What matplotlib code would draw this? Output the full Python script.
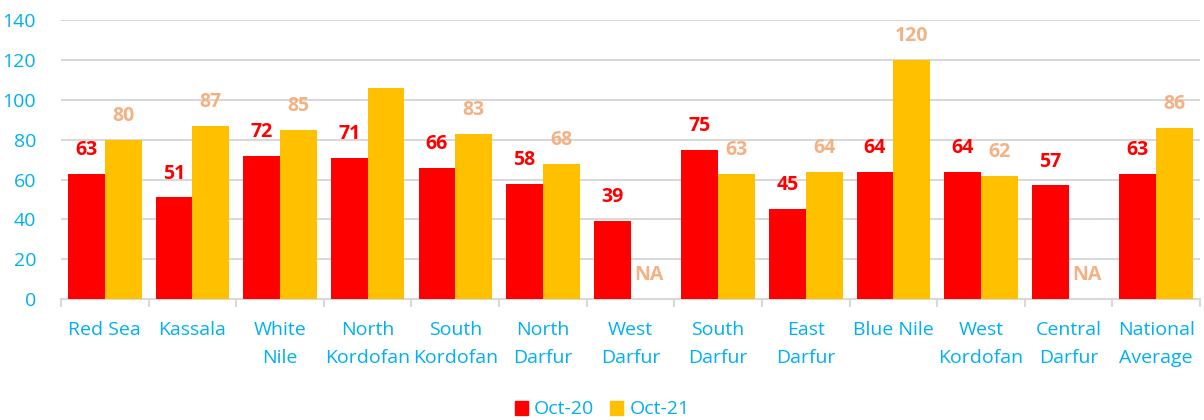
import numpy as np
import matplotlib
matplotlib.use('Agg')
import matplotlib.pyplot as plt
from matplotlib.patches import Patch

# data
regions = ['Red Sea', 'Kassala', 'White\nNile', 'North\nKordofan', 'South\nKordofan', 'North\nDarfur',
           'West\nDarfur', 'South\nDarfur', 'East\nDarfur', 'Blue Nile', 'West\nKordofan',
           'Central\nDarfur', 'National\nAverage']
oct20 = [63, 51, 72, 71, 66, 58, 39, 75, 45, 64, 64, 57, 63]
oct21 = [80, 87, 85, 106, 83, 68, None, 63, 64, 120, 62, None, 86]
# labels shown on the chart (North Kordofan Oct-21 has none)
oct20_lbl = ['63', '51', '72', '71', '66', '58', '39', '75', '45', '64', '64', '57', '63']
oct21_lbl = ['80', '87', '85', '', '83', '68', 'NA', '63', '64', '120', '62', 'NA', '86']

blue = '#00B0F0'
red = '#FF0000'
gold = '#FFC000'
lbl_col = '#F4B183'

plt.rcParams['font.family'] = ['Open Sans', 'DejaVu Sans']

fig = plt.figure(figsize=(12.04, 4.2), dpi=100)
ax = fig.add_axes([0.0507, 0.288, 0.946, 0.664])

x = np.arange(len(regions))
w = 0.42
v21 = [0 if v is None else v for v in oct21]
ax.bar(x - w / 2, oct20, w, color=red, zorder=3)
ax.bar(x + w / 2, v21, w, color=gold, zorder=3)

for i in range(len(regions)):
    ax.text(x[i] - w / 2, oct20[i] + 12, oct20_lbl[i], ha='center', va='center',
            color=red, fontsize=14, fontweight='bold')
    if oct21_lbl[i]:
        ax.text(x[i] + w / 2, v21[i] + 12, oct21_lbl[i], ha='center', va='center',
                color=lbl_col, fontsize=14, fontweight='bold')

ax.set_xlim(-0.5, len(regions) - 0.5)
ax.set_ylim(0, 140)
ax.set_yticks(range(0, 141, 20))
ax.yaxis.grid(True, color='#D9D9D9', linewidth=1.5, zorder=0)
ax.set_axisbelow(True)

ax.set_xticks(x)
ax.set_xticklabels(regions, color=blue, fontsize=14, linespacing=1.7, va='top')
ax.set_xticks(np.arange(-0.5, len(regions)), minor=True)
ax.tick_params(axis='x', which='major', length=0, pad=16)
ax.tick_params(axis='x', which='minor', length=6, color='#D9D9D9', width=1.5)
ax.tick_params(axis='y', length=0, pad=18, labelcolor=blue, labelsize=14)

for s in ['top', 'right', 'left']:
    ax.spines[s].set_visible(False)
ax.spines['bottom'].set_color('#D9D9D9')
ax.spines['bottom'].set_linewidth(1.5)

handles = [Patch(color=red, label='Oct-20'), Patch(color=gold, label='Oct-21')]
leg = fig.legend(handles=handles, loc='center', bbox_to_anchor=(0.5, 0.025), ncol=2, frameon=False,
                 fontsize=14, handlelength=0.7, handleheight=0.7, handletextpad=0.3, columnspacing=0.8)
for t in leg.get_texts():
    t.set_color(blue)

fig.savefig('out.png', dpi=100)
